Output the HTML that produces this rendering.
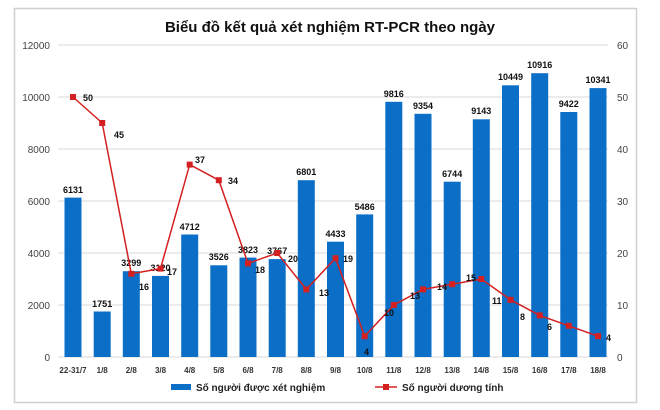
<!DOCTYPE html>
<html><head><meta charset="utf-8"><style>
body{margin:0;background:#fff;}
svg{display:block;font-family:"Liberation Sans",sans-serif;}
.t{font-size:9px;font-weight:bold;fill:#111;text-anchor:middle}
.p{font-size:9px;font-weight:bold;fill:#111}
.ax{font-size:10px;fill:#444}
.cx{font-size:8px;font-weight:bold;fill:#333;text-anchor:middle}
</style></head><body>
<svg width="660" height="410" viewBox="0 0 660 410">
<rect x="0" y="0" width="660" height="410" fill="#fff"/>
<rect x="14.5" y="8.5" width="622" height="394" fill="#fff" stroke="#d0d0d0" stroke-width="1.5"/>
<text x="330" y="32" text-anchor="middle" font-size="15" font-weight="bold" fill="#111">Biểu đồ kết quả xét nghiệm RT-PCR theo ngày</text>
<g stroke="#d9d9d9" stroke-width="1">
<line x1="58" y1="45" x2="608" y2="45"/><line x1="58" y1="97" x2="608" y2="97"/>
<line x1="58" y1="149" x2="608" y2="149"/><line x1="58" y1="201" x2="608" y2="201"/>
<line x1="58" y1="253" x2="608" y2="253"/><line x1="58" y1="305" x2="608" y2="305"/>
<line x1="58" y1="357" x2="608" y2="357"/>
</g>
<g class="ax" text-anchor="end">
<text x="50" y="49">12000</text><text x="50" y="101">10000</text><text x="50" y="153">8000</text>
<text x="50" y="205">6000</text><text x="50" y="257">4000</text><text x="50" y="309">2000</text><text x="50" y="361">0</text>
</g>
<g class="ax" text-anchor="start">
<text x="617" y="49">60</text><text x="617" y="101">50</text><text x="617" y="153">40</text>
<text x="617" y="205">30</text><text x="617" y="257">20</text><text x="617" y="309">10</text><text x="617" y="361">0</text>
</g>
<g fill="#0b6fc8">
<rect x="64.5" y="197.6" width="17" height="159.4"/>
<rect x="93.7" y="311.5" width="17" height="45.5"/>
<rect x="122.8" y="271.2" width="17" height="85.8"/>
<rect x="152" y="275.9" width="17" height="81.1"/>
<rect x="181.2" y="234.5" width="17" height="122.5"/>
<rect x="210.3" y="265.3" width="17" height="91.7"/>
<rect x="239.5" y="257.6" width="17" height="99.4"/>
<rect x="268.7" y="259.1" width="17" height="97.9"/>
<rect x="297.8" y="180.2" width="17" height="176.8"/>
<rect x="327" y="241.7" width="17" height="115.3"/>
<rect x="356.2" y="214.4" width="17" height="142.6"/>
<rect x="385.3" y="101.8" width="17" height="255.2"/>
<rect x="414.5" y="113.8" width="17" height="243.2"/>
<rect x="443.7" y="181.7" width="17" height="175.3"/>
<rect x="472.8" y="119.3" width="17" height="237.7"/>
<rect x="502" y="85.3" width="17" height="271.7"/>
<rect x="531.2" y="73.2" width="17" height="283.8"/>
<rect x="560.3" y="112" width="17" height="245"/>
<rect x="589.5" y="88.1" width="17" height="268.9"/>
</g>
<g class="t">
<text x="73" y="193">6131</text><text x="102.2" y="307">1751</text><text x="131.3" y="266">3299</text>
<text x="160.5" y="271">3120</text><text x="189.7" y="230">4712</text><text x="218.8" y="260">3526</text>
<text x="248" y="253">3823</text><text x="277.2" y="254">3767</text><text x="306.3" y="175">6801</text>
<text x="335.5" y="237">4433</text><text x="364.7" y="210">5486</text><text x="393.8" y="97">9816</text>
<text x="423" y="109">9354</text><text x="452.2" y="177">6744</text><text x="481.3" y="114">9143</text>
<text x="510.5" y="80">10449</text><text x="539.7" y="68">10916</text><text x="568.8" y="107">9422</text>
<text x="598" y="83">10341</text>
</g>
<polyline fill="none" stroke="#d42020" stroke-width="1.5" points="73,97 102.2,123 131.3,273.8 160.5,268.6 189.7,164.6 218.8,180.2 248,263.4 277.2,253 306.3,289.4 335.5,258.2 364.7,336.2 393.8,305 423,289.4 452.2,284.2 481.3,279 510.5,299.8 539.7,315.4 568.8,325.8 598,336.2"/>
<g fill="#d42020">
<rect x="70" y="94" width="6" height="6"/><rect x="99.2" y="120" width="6" height="6"/><rect x="128.3" y="270.8" width="6" height="6"/>
<rect x="157.5" y="265.6" width="6" height="6"/><rect x="186.7" y="161.6" width="6" height="6"/><rect x="215.8" y="177.2" width="6" height="6"/>
<rect x="245" y="260.4" width="6" height="6"/><rect x="274.2" y="250" width="6" height="6"/><rect x="303.3" y="286.4" width="6" height="6"/>
<rect x="332.5" y="255.2" width="6" height="6"/><rect x="361.7" y="333.2" width="6" height="6"/><rect x="390.8" y="302" width="6" height="6"/>
<rect x="420" y="286.4" width="6" height="6"/><rect x="449.2" y="281.2" width="6" height="6"/><rect x="478.3" y="276" width="6" height="6"/>
<rect x="507.5" y="296.8" width="6" height="6"/><rect x="536.7" y="312.4" width="6" height="6"/><rect x="565.8" y="322.8" width="6" height="6"/>
<rect x="595" y="333.2" width="6" height="6"/>
</g>
<g class="p">
<text x="83" y="101">50</text><text x="114" y="138">45</text><text x="139" y="290">16</text>
<text x="167" y="275">17</text><text x="195" y="163">37</text><text x="228" y="184">34</text>
<text x="255" y="273">18</text><text x="288" y="262">20</text><text x="319" y="296">13</text>
<text x="343" y="262">19</text><text x="364" y="355">4</text><text x="384" y="316">10</text>
<text x="410" y="299">13</text><text x="437" y="290">14</text><text x="466" y="281">15</text>
<text x="492" y="304">11</text><text x="520" y="320">8</text><text x="547" y="330">6</text>
<text x="606" y="341">4</text>
</g>
<g class="cx">
<text x="73" y="373">22-31/7</text><text x="102.2" y="373">1/8</text><text x="131.3" y="373">2/8</text>
<text x="160.5" y="373">3/8</text><text x="189.7" y="373">4/8</text><text x="218.8" y="373">5/8</text>
<text x="248" y="373">6/8</text><text x="277.2" y="373">7/8</text><text x="306.3" y="373">8/8</text>
<text x="335.5" y="373">9/8</text><text x="364.7" y="373">10/8</text><text x="393.8" y="373">11/8</text>
<text x="423" y="373">12/8</text><text x="452.2" y="373">13/8</text><text x="481.3" y="373">14/8</text>
<text x="510.5" y="373">15/8</text><text x="539.7" y="373">16/8</text><text x="568.8" y="373">17/8</text>
<text x="598" y="373">18/8</text>
</g>
<rect x="171" y="384" width="20" height="6" fill="#0b6fc8"/>
<text x="196" y="391" font-size="10" font-weight="bold" fill="#222">Số người được xét nghiệm</text>
<line x1="375" y1="387" x2="397" y2="387" stroke="#d42020" stroke-width="1.5"/>
<rect x="383" y="384" width="6" height="6" fill="#d42020"/>
<text x="402" y="391" font-size="10" font-weight="bold" fill="#222">Số người dương tính</text>
</svg>
</body></html>
